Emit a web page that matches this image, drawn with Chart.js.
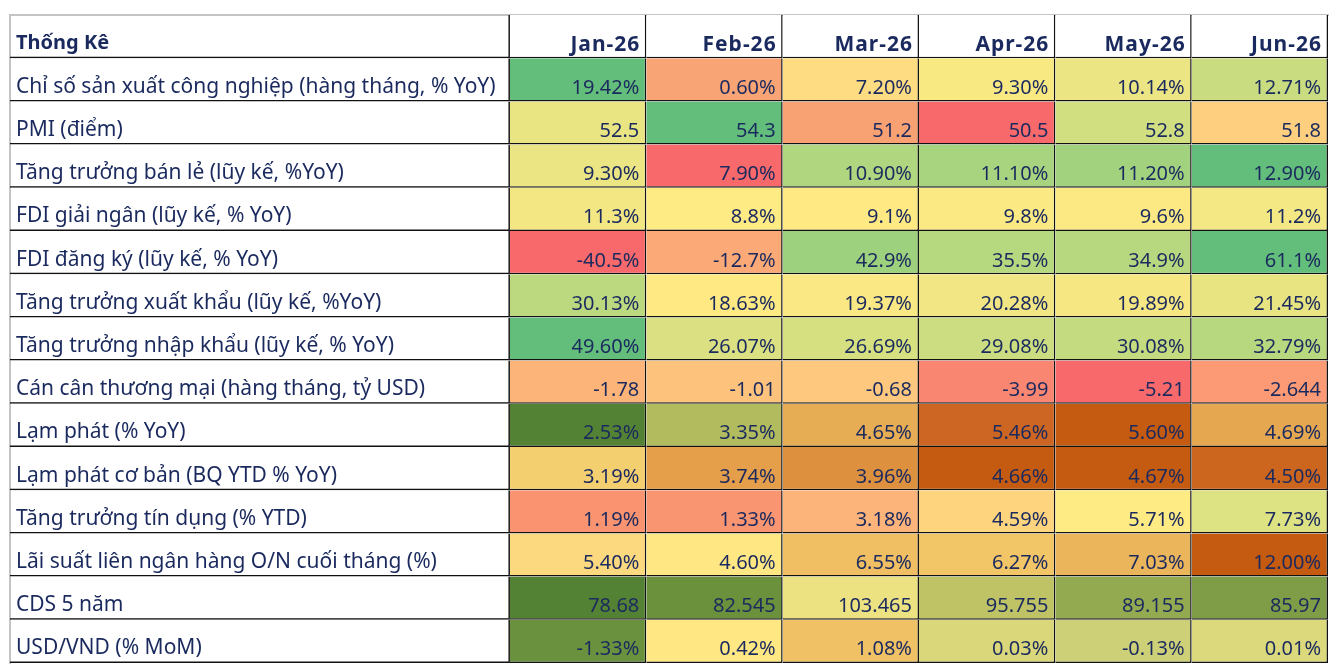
<!DOCTYPE html>
<html lang="vi">
<head>
<meta charset="utf-8">
<title>Thống Kê</title>
<script src="https://cdn.jsdelivr.net/npm/chart.js@4.4.1/dist/chart.umd.min.js"></script>
<style>
    html, body { margin: 0; padding: 0; background: #ffffff; }
    #chartContainer { width: 1340px; height: 671px; position: relative; }
</style>
</head>
<body>
<div id="chartContainer"><canvas id="heatTable"></canvas></div>
<script>
// Column headers and row names
const months = ['Jan-26', 'Feb-26', 'Mar-26', 'Apr-26', 'May-26', 'Jun-26'];
const headerTitle = 'Thống Kê';
const indicators = [
    'Chỉ số sản xuất công nghiệp (hàng tháng, % YoY)',
    'PMI (điểm)',
    'Tăng trưởng bán lẻ (lũy kế, %YoY)',
    'FDI giải ngân (lũy kế, % YoY)',
    'FDI đăng ký (lũy kế, % YoY)',
    'Tăng trưởng xuất khẩu (lũy kế, %YoY)',
    'Tăng trưởng nhập khẩu (lũy kế, % YoY)',
    'Cán cân thương mại (hàng tháng, tỷ USD)',
    'Lạm phát (% YoY)',
    'Lạm phát cơ bản (BQ YTD % YoY)',
    'Tăng trưởng tín dụng (% YTD)',
    'Lãi suất liên ngân hàng O/N cuối tháng (%)',
    'CDS 5 năm',
    'USD/VND (% MoM)'
];

// Values, one array per indicator (Jan..Jun)
const industrialProduction = [19.42, 0.60, 7.20, 9.30, 10.14, 12.71];
const pmi = [52.5, 54.3, 51.2, 50.5, 52.8, 51.8];
const retailGrowth = [9.30, 7.90, 10.90, 11.10, 11.20, 12.90];
const fdiDisbursed = [11.3, 8.8, 9.1, 9.8, 9.6, 11.2];
const fdiRegistered = [-40.5, -12.7, 42.9, 35.5, 34.9, 61.1];
const exportGrowth = [30.13, 18.63, 19.37, 20.28, 19.89, 21.45];
const importGrowth = [49.60, 26.07, 26.69, 29.08, 30.08, 32.79];
const tradeBalance = [-1.78, -1.01, -0.68, -3.99, -5.21, -2.644];
const inflation = [2.53, 3.35, 4.65, 5.46, 5.60, 4.69];
const coreInflation = [3.19, 3.74, 3.96, 4.66, 4.67, 4.50];
const creditGrowth = [1.19, 1.33, 3.18, 4.59, 5.71, 7.73];
const interbankRate = [5.40, 4.60, 6.55, 6.27, 7.03, 12.00];
const cds5y = [78.68, 82.545, 103.465, 95.755, 89.155, 85.97];
const usdVnd = [-1.33, 0.42, 1.08, 0.03, -0.13, 0.01];

const rows = [industrialProduction, pmi, retailGrowth, fdiDisbursed, fdiRegistered, exportGrowth,
    importGrowth, tradeBalance, inflation, coreInflation, creditGrowth, interbankRate, cds5y, usdVnd];

// Number format per row: decimals (null = as is) and suffix
const rowDecimals = [2, 1, 2, 1, 1, 2, 2, null, 2, 2, 2, 2, null, 2];
const rowSuffix = ['%', '', '%', '%', '%', '%', '%', '', '%', '%', '%', '%', '', '%'];

// Cell colours (conditional formatting as seen in the sheet)
const cellColors = [
    ['#63be7b', '#f8a474', '#fedc81', '#f9e983', '#ebe583', '#c9dd80'],
    ['#e9e583', '#63be7b', '#f8a173', '#f8696b', '#d1df81', '#fecf7f'],
    ['#ebe583', '#f8696b', '#b0d67f', '#a9d47f', '#a2d27e', '#63be7b'],
    ['#f2e783', '#ffeb84', '#fee983', '#fbe983', '#fce983', '#f3e884'],
    ['#f8696b', '#fbaa77', '#9dd17e', '#b6d87f', '#b8d87f', '#63be7b'],
    ['#bcd980', '#fee983', '#f9e883', '#f1e683', '#f6e783', '#e8e482'],
    ['#63be7b', '#dbe182', '#d6e081', '#cbdd80', '#c5db80', '#b8d87f'],
    ['#fcb479', '#fdc37d', '#fec97e', '#f98670', '#f8696b', '#fb9a74'],
    ['#548235', '#b2bb5e', '#e6ad55', '#cc6622', '#c55a11', '#e5a850'],
    ['#f4cf70', '#e59f4a', '#dd913f', '#c55a11', '#c55a11', '#cc661f'],
    ['#f99370', '#f99571', '#fcb47a', '#fed47f', '#ffeb84', '#dde283'],
    ['#fcd87e', '#ffe884', '#f0be63', '#f2c567', '#ebb55c', '#c55a11'],
    ['#548235', '#6b913c', '#ede281', '#bfc365', '#94aa51', '#7f9d46'],
    ['#6a913e', '#ffe884', '#f0c265', '#d9d77a', '#cdd076', '#dbd97b']
];

const textColor = '#1b2a5e';
const lineColor = '#111111';
const fontFamily = '"Noto Sans", Roboto, sans-serif';
const labelColumnWidth = 3.667; // width of the name column, in month-column units

const yLabels = [headerTitle].concat(indicators);

function formatValue(value, rowIndex) {
    const decimals = rowDecimals[rowIndex];
    const text = decimals === null ? String(value) : value.toFixed(decimals);
    return text + rowSuffix[rowIndex];
}

// Name column: empty cells (only borders), the names come from the y axis
const labelDataset = {
    label: 'name',
    data: yLabels.map(() => [-labelColumnWidth, 0]),
    backgroundColor: 'rgba(255,255,255,0)'
};

// One dataset per month: header cell + one coloured cell per indicator
const monthDatasets = months.map((month, i) => ({
    label: month,
    data: yLabels.map(() => [i, i + 1]),
    backgroundColor: ['#ffffff'].concat(cellColors.map(rowColors => rowColors[i]))
}));

// Draws the header texts and the cell values, right aligned in each cell
const cellTextPlugin = {
    id: 'cellText',
    afterDatasetsDraw(chart) {
        const ctx = chart.ctx;
        ctx.save();
        ctx.textAlign = 'right';
        ctx.textBaseline = 'alphabetic';
        ctx.fillStyle = textColor;
        months.forEach((month, i) => {
            const meta = chart.getDatasetMeta(i + 1);
            meta.data.forEach((bar, j) => {
                if (j === 0) {
                    ctx.font = 'bold 21px ' + fontFamily;
                    ctx.letterSpacing = '1px';
                    ctx.fillText(month, bar.x - 6, bar.y + 14);
                    ctx.letterSpacing = '0px';
                } else {
                    ctx.font = '20px ' + fontFamily;
                    ctx.fillText(formatValue(rows[j - 1][i], j - 1), bar.x - 7, bar.y + 14);
                }
            });
        });
        ctx.restore();
    }
};

const tableCtx = document.getElementById('heatTable').getContext('2d');
new Chart(tableCtx, {
    type: 'bar',
    data: {
        labels: yLabels,
        datasets: [labelDataset].concat(monthDatasets)
    },
    options: {
        indexAxis: 'y',
        responsive: true,
        maintainAspectRatio: false,
        animation: false,
        events: [],
        layout: { padding: { left: 10, right: 12, top: 15, bottom: 8 } },
        datasets: {
            bar: {
                grouped: false,
                barPercentage: 1,
                categoryPercentage: 1,
                borderSkipped: false,
                inflateAmount: 0,
                borderColor: lineColor,
                borderWidth: { top: 0, left: 0, right: 1.5, bottom: 1.5 }
            }
        },
        plugins: {
            legend: { display: false },
            tooltip: { enabled: false }
        },
        scales: {
            x: {
                type: 'linear',
                position: 'top',
                min: -labelColumnWidth,
                max: months.length,
                grid: { display: false, drawTicks: false },
                ticks: { display: false },
                border: { display: true, color: '#c4c4c4', width: 2 },
                afterFit: scale => { scale.height = 0; }
            },
            y: {
                type: 'category',
                position: 'left',
                grid: { display: false, drawTicks: false },
                border: { display: true, color: '#c4c4c4', width: 2 },
                afterFit: scale => {
                    scale.width = 0;
                    scale.paddingTop = 0;
                    scale.paddingBottom = 0;
                },
                ticks: {
                    mirror: true,
                    autoSkip: false,
                    padding: 6,
                    labelOffset: 7,
                    color: textColor,
                    font: ctx => ({ family: fontFamily, size: ctx.index === 0 ? 20 : 21, weight: ctx.index === 0 ? 'bold' : 'normal' })
                }
            }
        }
    },
    plugins: [cellTextPlugin]
});
</script>
</body>
</html>
